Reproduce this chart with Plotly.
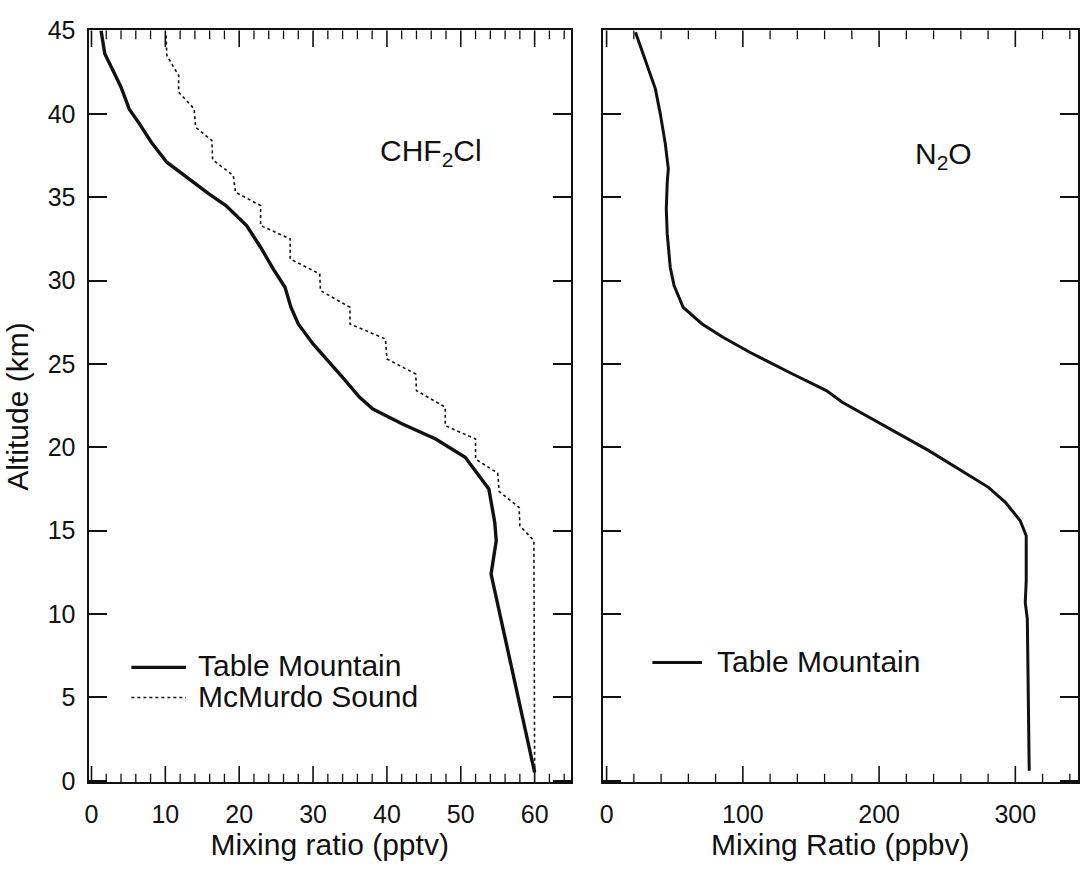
import plotly.graph_objects as go

# CHF2Cl profile, Table Mountain (altitude km, mixing ratio pptv)
tm_chf_alt = [45.0, 43.6, 42.7, 41.6, 40.9, 40.3, 39.4, 38.3, 37.1, 36.1, 35.2, 34.5,
              33.3, 32.0, 30.7, 29.6, 28.4, 27.4, 26.2, 24.2, 23.0, 22.3, 21.4, 20.5,
              19.4, 17.5, 15.5, 14.4, 12.4, 0.5]
tm_chf_mix = [1.3, 1.8, 2.8, 4.0, 4.6, 5.1, 6.5, 8.1, 10.2, 13.2, 15.9, 18.2,
              21.0, 22.9, 24.6, 26.2, 27.0, 28.0, 30.0, 34.0, 36.3, 38.1, 42.1, 46.6,
              50.6, 53.8, 54.6, 54.8, 54.1, 60.0]

# CHF2Cl profile, McMurdo Sound
mm_chf_alt = [44.7, 43.5, 42.3, 41.3, 40.3, 39.2, 38.4, 37.25, 36.3, 35.3, 34.5, 33.3,
              32.5, 31.3, 30.4, 29.4, 28.4, 27.4, 26.5, 25.3, 24.4, 23.4, 22.4, 21.3,
              20.5, 19.3, 18.45, 17.35, 16.4, 15.3, 14.4, 0.5]
mm_chf_mix = [10.1, 10.2, 11.8, 11.8, 13.9, 14.1, 16.3, 16.4, 19.2, 19.5, 22.9, 22.9,
              26.9, 26.9, 30.9, 31.0, 35.0, 35.0, 39.8, 40.0, 43.9, 44.0, 47.9, 47.9,
              52.0, 52.0, 55.0, 55.2, 57.9, 58.0, 59.9, 60.0]

# N2O profile, Table Mountain (ppbv)
tm_n2o_alt = [44.9, 43.2, 41.5, 40.0, 38.2, 36.7, 35.9, 34.3, 32.8, 30.8, 29.7, 28.4,
              27.4, 26.6, 25.7, 24.4, 23.4, 22.7, 21.9, 19.8, 17.6, 16.7, 15.6, 14.7,
              12.0, 10.7, 9.7, 5.2, 0.6]
tm_n2o_mix = [21.2, 28.5, 35.8, 39.4, 43.1, 45.3, 44.5, 43.8, 44.5, 46.7, 49.5, 56.2,
              70.1, 85.4, 105.1, 136.5, 161.3, 173.0, 190.5, 236.5, 280.3, 292.7, 303.6, 308.0,
              308.0, 307.3, 308.8, 309.5, 310.2]

# Tick positions on the mixing-ratio axes
chf_major = [0, 10, 20, 30, 40, 50, 60]
chf_minor = [2, 4, 6, 8, 12, 14, 16, 18, 22, 24, 26, 28, 32, 34, 36, 38,
             42, 44, 46, 48, 52, 54, 56, 58, 62, 64]
n2o_major = [0, 100, 200, 300]
n2o_minor = [20, 40, 60, 80, 120, 140, 160, 180, 220, 240, 260, 280, 320, 340]

FONT = "Liberation Sans, Arial, Helvetica, sans-serif"
INK = "#111111"
LABEL_SIZE = 30

chf_range = [-0.4, 64.9]
n2o_range = [-2.9, 346]
alt_range = [-0.1, 45]

fig = go.Figure()

fig.add_trace(go.Scatter(x=tm_chf_mix, y=tm_chf_alt, mode="lines", name="Table Mountain",
                         line=dict(color=INK, width=3.4), xaxis="x", yaxis="y",
                         showlegend=False))
fig.add_trace(go.Scatter(x=mm_chf_mix, y=mm_chf_alt, mode="lines", name="McMurdo Sound",
                         line=dict(color=INK, width=1.6, dash="dot"), xaxis="x", yaxis="y",
                         showlegend=False))
fig.add_trace(go.Scatter(x=tm_n2o_mix, y=tm_n2o_alt, mode="lines", name="Table Mountain",
                         line=dict(color=INK, width=3.0), xaxis="x2", yaxis="y2",
                         showlegend=False))

tick_font = dict(family=FONT, size=25, color=INK)
title_font = dict(family=FONT, size=LABEL_SIZE, color=INK)

common_x = dict(showgrid=False, zeroline=False, showline=True, linecolor=INK, linewidth=2,
                mirror=True, ticks="", tickfont=tick_font, tickmode="array",
                ticklabelstandoff=9)
common_y = dict(showgrid=False, zeroline=False, showline=True, linecolor=INK, linewidth=2,
                mirror="ticks", ticks="inside", ticklen=18, tickwidth=1.6, tickcolor=INK,
                tickfont=tick_font, tick0=0, dtick=5, range=alt_range, ticklabelstandoff=6)

x1_dom = [85 / 1080, 570 / 1080]
x2_dom = [602 / 1080, 1.0]
y_dom = [1 - 792 / 875, 1 - 17 / 875]
plot_h = 775.0  # plot height in px, used to size the inner ticks

fig.update_layout(
    width=1080, height=875,
    margin=dict(l=0, r=0, t=0, b=0),
    paper_bgcolor="white", plot_bgcolor="white",
    font=dict(family=FONT, color=INK),
    xaxis=dict(common_x, domain=x1_dom, range=chf_range, anchor="y",
               tickvals=chf_major, ticktext=[str(v) for v in chf_major],
               title=dict(text="Mixing ratio (pptv)", font=title_font, standoff=6)),
    yaxis=dict(common_y, domain=y_dom, anchor="x",
               title=dict(text="Altitude (km)", font=title_font, standoff=10)),
    xaxis2=dict(common_x, domain=x2_dom, range=n2o_range, anchor="y2",
                tickvals=n2o_major, ticktext=[str(v) for v in n2o_major],
                title=dict(text="Mixing Ratio (ppbv)", font=title_font, standoff=6)),
    yaxis2=dict(common_y, domain=y_dom, anchor="x2", showticklabels=False),
)


def inner_ticks(xref, yref, values, length_px, width):
    """Inward tick marks on both the bottom and top edges of a panel."""
    frac = length_px / plot_h
    for v in values:
        for y0, y1 in ((0, frac), (1, 1 - frac)):
            fig.add_shape(type="line", xref=xref, yref=yref + " domain",
                          x0=v, x1=v, y0=y0, y1=y1,
                          line=dict(color=INK, width=width))


inner_ticks("x", "y", chf_major, 17, 1.6)
inner_ticks("x", "y", chf_minor, 9, 1.3)
inner_ticks("x2", "y2", n2o_major, 17, 1.6)
inner_ticks("x2", "y2", n2o_minor, 9, 1.3)

# Species labels
fig.add_annotation(x=46, y=37.7, xref="x", yref="y", text="CHF<sub>2</sub>Cl",
                   showarrow=False, font=dict(family=FONT, size=30, color=INK))
fig.add_annotation(x=247, y=37.5, xref="x2", yref="y2", text="N<sub>2</sub>O",
                   showarrow=False, font=dict(family=FONT, size=30, color=INK))

# Key for the left panel
fig.add_shape(type="line", xref="x", yref="y", x0=5.4, x1=12.8, y0=6.8, y1=6.8,
              line=dict(color=INK, width=3.4))
fig.add_shape(type="line", xref="x", yref="y", x0=5.4, x1=12.8, y0=5.0, y1=5.0,
              line=dict(color=INK, width=1.6, dash="dot"))
fig.add_annotation(x=14.2, y=6.9, xref="x", yref="y", text="Table Mountain", xanchor="left",
                   showarrow=False, font=dict(family=FONT, size=LABEL_SIZE, color=INK))
fig.add_annotation(x=14.2, y=5.05, xref="x", yref="y", text="McMurdo Sound", xanchor="left",
                   showarrow=False, font=dict(family=FONT, size=LABEL_SIZE, color=INK))

# Key for the right panel
fig.add_shape(type="line", xref="x2", yref="y2", x0=33.6, x1=70, y0=7.1, y1=7.1,
              line=dict(color=INK, width=3.0))
fig.add_annotation(x=79.5, y=7.15, xref="x2", yref="y2", text="Table Mountain", xanchor="left",
                   showarrow=False, font=dict(family=FONT, size=LABEL_SIZE, color=INK))

fig.write_html("out.html")
